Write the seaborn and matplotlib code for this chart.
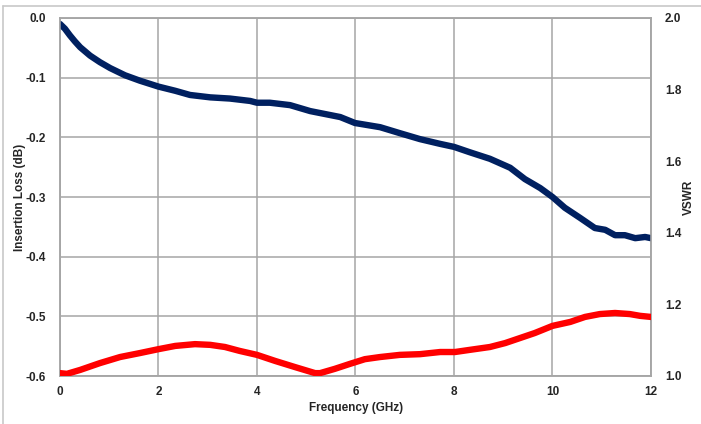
import numpy as np
import pandas as pd
import matplotlib
matplotlib.use("Agg")
import matplotlib.pyplot as plt
import seaborn as sns
from matplotlib.lines import Line2D

# ---- data ----
il_freq = [0.0, 0.1, 0.2, 0.3, 0.41, 0.61, 0.81, 1.02, 1.32, 1.62, 2.0, 2.34, 2.64,
           3.05, 3.45, 3.86, 4.0, 4.26, 4.67, 5.08, 5.69, 5.99, 6.5, 6.9, 7.31,
           7.72, 8.0, 8.32, 8.73, 9.14, 9.44, 9.75, 10.0, 10.25, 10.56, 10.86,
           11.07, 11.27, 11.47, 11.68, 11.88, 12.0]
il_db = [-0.010, -0.018, -0.029, -0.039, -0.049, -0.063, -0.074, -0.084, -0.096,
         -0.105, -0.115, -0.122, -0.129, -0.133, -0.135, -0.139, -0.142, -0.142,
         -0.146, -0.156, -0.166, -0.176, -0.183, -0.193, -0.203, -0.211, -0.216,
         -0.225, -0.236, -0.251, -0.270, -0.285, -0.300, -0.318, -0.335, -0.352,
         -0.355, -0.364, -0.364, -0.369, -0.367, -0.369]

vswr_freq = [0.0, 0.14, 0.41, 0.81, 1.22, 1.62, 2.0, 2.34, 2.74, 3.05, 3.35, 3.65,
             4.0, 4.37, 4.77, 5.18, 5.28, 5.58, 5.89, 6.19, 6.5, 6.9, 7.31, 7.72,
             8.02, 8.32, 8.73, 9.04, 9.34, 9.64, 10.0, 10.36, 10.66, 10.96, 11.27,
             11.57, 11.78, 12.0]
vswr = [1.008, 1.006, 1.017, 1.036, 1.053, 1.064, 1.075, 1.084, 1.089, 1.087, 1.081,
        1.070, 1.059, 1.042, 1.025, 1.008, 1.008, 1.020, 1.034, 1.047, 1.053, 1.059,
        1.061, 1.067, 1.067, 1.073, 1.081, 1.092, 1.106, 1.120, 1.140, 1.151, 1.165,
        1.173, 1.176, 1.173, 1.168, 1.165]

x_ticks = [0, 2, 4, 6, 8, 10, 12]
il_ticks = [0.0, -0.1, -0.2, -0.3, -0.4, -0.5, -0.6]
vswr_ticks = [1.0, 1.2, 1.4, 1.6, 1.8, 2.0]

df_il = pd.DataFrame({"freq": il_freq, "il": il_db})
df_vs = pd.DataFrame({"freq": vswr_freq, "vswr": vswr})

sns.set_style("white")
plt.rcParams["font.family"] = ["Liberation Sans", "DejaVu Sans"]

W, H = 701, 424
fig = plt.figure(figsize=(W / 100, H / 100), dpi=100)
ax = fig.add_axes([60 / W, 1 - 376 / H, (651 - 60) / W, (376 - 18) / H])
ax2 = ax.twinx()

grid_c = "#A6A6A6"
sns.lineplot(data=df_il, x="freq", y="il", ax=ax, color="#002060", lw=4.6,
             solid_capstyle="round", solid_joinstyle="round", zorder=3)
sns.lineplot(data=df_vs, x="freq", y="vswr", ax=ax2, color="#FF0000", lw=4.6,
             solid_capstyle="round", solid_joinstyle="round", zorder=3)

ax.set_xlim(0, 12)
ax.set_ylim(-0.6, 0.0)
ax2.set_ylim(1.0, 2.0)
ax.set_xticks(x_ticks)
ax.set_xticklabels([str(t) for t in x_ticks])
ax.set_yticks(il_ticks)
ax.set_yticklabels([f"{t:.1f}" for t in il_ticks])
ax2.set_yticks(vswr_ticks)
ax2.set_yticklabels([f"{t:.1f}" for t in vswr_ticks])

ax.grid(True, color=grid_c, lw=1.1)
ax2.grid(False)
ax.set_axisbelow(True)
for a in (ax, ax2):
    for s in a.spines.values():
        s.set_color(grid_c)
        s.set_linewidth(1.1)
    a.tick_params(length=0, labelsize=8.5)
    for lab in a.get_xticklabels() + a.get_yticklabels():
        lab.set_fontweight("bold")
ax.tick_params(axis="y", pad=10)
ax.tick_params(axis="x", pad=7)
ax2.tick_params(axis="y", pad=10)

ax.set_xlabel("")
ax.set_ylabel("")
ax2.set_ylabel("")
fig.text(20 / W, 1 - 197 / H, "Insertion Loss (dB)", rotation=90, ha="center",
         va="center", fontsize=8.5, fontweight="bold")
fig.text(689 / W, 1 - 197 / H, "VSWR", rotation=90, ha="center", va="center",
         fontsize=8.5, fontweight="bold")
fig.text(356 / W, 1 - 408 / H, "Frequency (GHz)", ha="center", va="center",
         fontsize=8.5, fontweight="bold")

# faint outer frame (top and left edges visible in reference)
fig.add_artist(Line2D([3 / W, 1.0], [1 - 6 / H, 1 - 6 / H], color="#C8C8C8", lw=1.2,
                      transform=fig.transFigure))
fig.add_artist(Line2D([3 / W, 3 / W], [0.0, 1 - 6 / H], color="#C8C8C8", lw=1.2,
                      transform=fig.transFigure))

fig.savefig("out.png", dpi=100)
